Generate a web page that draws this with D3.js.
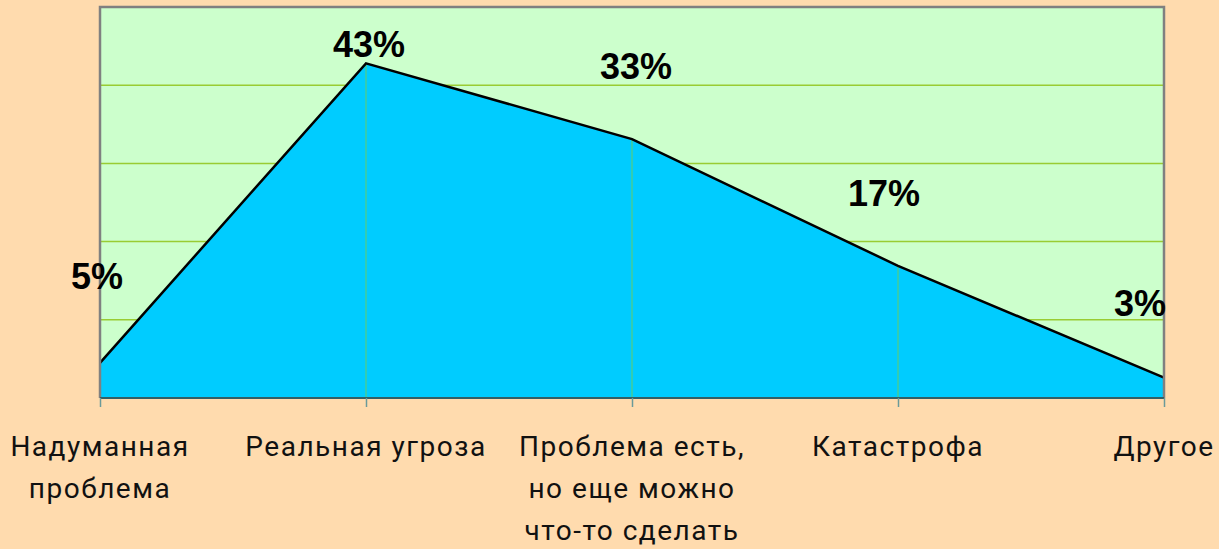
<!DOCTYPE html>
<html>
<head>
<meta charset="utf-8">
<script src="https://d3js.org/d3.v7.min.js"></script>
<style>
    body { margin: 0; background: #FFDBAE; }
    .cat { font-family: Roboto, sans-serif; font-size: 28px; fill: #111; letter-spacing: 1.5px; }
    .val { font-family: "Liberation Sans", Arial, sans-serif; font-size: 36px; font-weight: bold; fill: #000; }
</style>
</head>
<body>
<script>
    // data
    var categories = [
        ["Надуманная", "проблема"],
        ["Реальная угроза"],
        ["Проблема есть,", "но еще можно", "что-то сделать"],
        ["Катастрофа"],
        ["Другое"]
    ];
    var values = [4.5, 42.8, 33.1, 16.9, 2.6];
    var yTicks = [0, 10, 20, 30, 40, 50];

    // where each value label sits relative to its point (layout only)
    var labelDx = [-3, 3, 4, -14, -24];
    var labelDy = [-74, -6, -60, -60, -62];

    var width = 1219, height = 549;
    var plot = { left: 100, right: 1164, top: 7, bottom: 398 };

    var svg = d3.select("body").append("svg")
        .attr("width", width)
        .attr("height", height);

    var x = d3.scalePoint()
        .domain(d3.range(categories.length))
        .range([plot.left, plot.right]);

    var y = d3.scaleLinear()
        .domain([0, 50])
        .range([plot.bottom, plot.top]);

    // plot background
    svg.append("rect")
        .attr("x", plot.left).attr("y", plot.top)
        .attr("width", plot.right - plot.left)
        .attr("height", plot.bottom - plot.top)
        .style("fill", "#CCFFCC");

    // horizontal gridlines
    svg.append("g")
        .selectAll("line")
        .data(yTicks.slice(1, -1))
        .enter().append("line")
        .attr("x1", plot.left).attr("x2", plot.right)
        .attr("y1", function (d) { return y(d); })
        .attr("y2", function (d) { return y(d); })
        .style("stroke", "#99CC33")
        .style("stroke-width", 1.5);

    // area
    var area = d3.area()
        .x(function (d, i) { return x(i); })
        .y0(y(0))
        .y1(function (d) { return y(d); });

    svg.append("path")
        .datum(values)
        .attr("d", area)
        .style("fill", "#00CCFF");

    // drop lines
    svg.append("g")
        .selectAll("line")
        .data(values)
        .enter().append("line")
        .attr("x1", function (d, i) { return x(i); })
        .attr("x2", function (d, i) { return x(i); })
        .attr("y1", function (d) { return y(d); })
        .attr("y2", y(0))
        .style("stroke", "#66CC66")
        .style("stroke-width", 1);

    // top line
    var line = d3.line()
        .x(function (d, i) { return x(i); })
        .y(function (d) { return y(d); });

    svg.append("path")
        .datum(values)
        .attr("d", line)
        .style("fill", "none")
        .style("stroke", "#000")
        .style("stroke-width", 2.5);

    // plot border (top, left, right)
    svg.append("path")
        .attr("d", "M" + plot.left + "," + plot.bottom + "V" + plot.top + "H" + plot.right + "V" + plot.bottom)
        .style("fill", "none")
        .style("stroke", "#808080")
        .style("stroke-width", 2.5);

    // x axis
    var xAxis = svg.append("g")
        .attr("transform", "translate(0," + plot.bottom + ")")
        .call(d3.axisBottom(x).tickSize(9).tickFormat(""));
    xAxis.select(".domain")
        .attr("d", "M" + plot.left + ",0H" + plot.right)
        .style("stroke", "#335F66")
        .style("stroke-width", 2);
    xAxis.selectAll(".tick line")
        .style("stroke", "#6A9A9A")
        .style("stroke-width", 1.5);

    // category labels
    svg.append("g")
        .selectAll("text")
        .data(categories)
        .enter().append("text")
        .attr("class", "cat")
        .attr("text-anchor", "middle")
        .attr("transform", function (d, i) { return "translate(" + x(i) + ",456)"; })
        .each(function (d) {
            d3.select(this).selectAll("tspan")
                .data(d)
                .enter().append("tspan")
                .attr("x", 0)
                .attr("dy", function (t, j) { return j === 0 ? 0 : 42; })
                .text(function (t) { return t; });
        });

    // value labels
    svg.append("g")
        .selectAll("text")
        .data(values)
        .enter().append("text")
        .attr("class", "val")
        .attr("text-anchor", "middle")
        .attr("x", function (d, i) { return x(i) + labelDx[i]; })
        .attr("y", function (d, i) { return y(d) + labelDy[i]; })
        .text(function (d) { return Math.round(d) + "%"; });
</script>
</body>
</html>
